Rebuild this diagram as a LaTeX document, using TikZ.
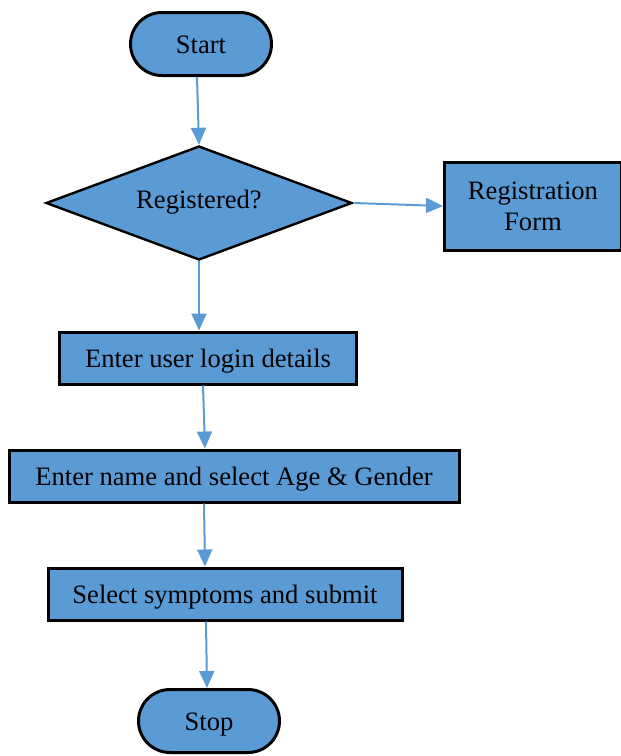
\documentclass[tikz,border=0pt]{standalone}
\usepackage{fontspec}
\setmainfont{Liberation Serif}
\usetikzlibrary{shapes.geometric,shapes.misc,arrows.meta}
\definecolor{boxblue}{RGB}{91,155,213}

\begin{document}
\begin{tikzpicture}[x=0.5pt, y=-0.5pt,
  every node/.style={font=\fontsize{13.3}{15.5}\selectfont},
  terminal/.style={rounded rectangle, draw, line width=1.5pt, fill=boxblue, minimum width=70.5pt, minimum height=31.5pt, inner sep=0pt, text height=10pt, text depth=0.5pt},
  decision/.style={diamond, draw, line width=1.2pt, fill=boxblue, aspect=2.68, minimum width=153pt, minimum height=57pt, inner sep=0pt, text height=7pt, text depth=1.6pt},
  box/.style={rectangle, draw, line width=1.5pt, fill=boxblue, minimum height=26pt, inner sep=0pt},
  process/.style={box, text height=10pt, text depth=0.5pt},
  flow/.style={-{Triangle[length=8.5pt,width=7.5pt]}, color=boxblue, line width=1pt}]

\useasboundingbox (0,0) rectangle (621,756);

\node[terminal] (start) at (201,44) {Start};
\node[decision] (reg) at (199,203) {Registered?};
\node[box, minimum width=88.5pt, minimum height=44pt, align=center] (form) at (533,206) {Registration\\Form};
\node[process, minimum width=148.5pt] (login) at (208,358) {Enter user login details};
\node[process, minimum width=225pt] (name) at (234,476) {Enter name and select Age \& Gender};
\node[process, minimum width=177pt] (symp) at (225,594) {Select symptoms and submit};
\node[terminal] (stop) at (209,721) {Stop};

\draw[flow] ([xshift=-2pt]start.south) -- (reg.north);
\draw[flow] (reg.east) -- (form.west);
\draw[flow] (reg.south) -- (reg.south |- login.north);
\draw[flow] ([xshift=-2.5pt]login.south) -- ([xshift=-14.5pt]name.north);
\draw[flow] ([xshift=-15pt]name.south) -- ([xshift=-10pt]symp.north);
\draw[flow] ([xshift=-9.5pt]symp.south) -- ([xshift=-1pt]stop.north);

\end{tikzpicture}
\end{document}
